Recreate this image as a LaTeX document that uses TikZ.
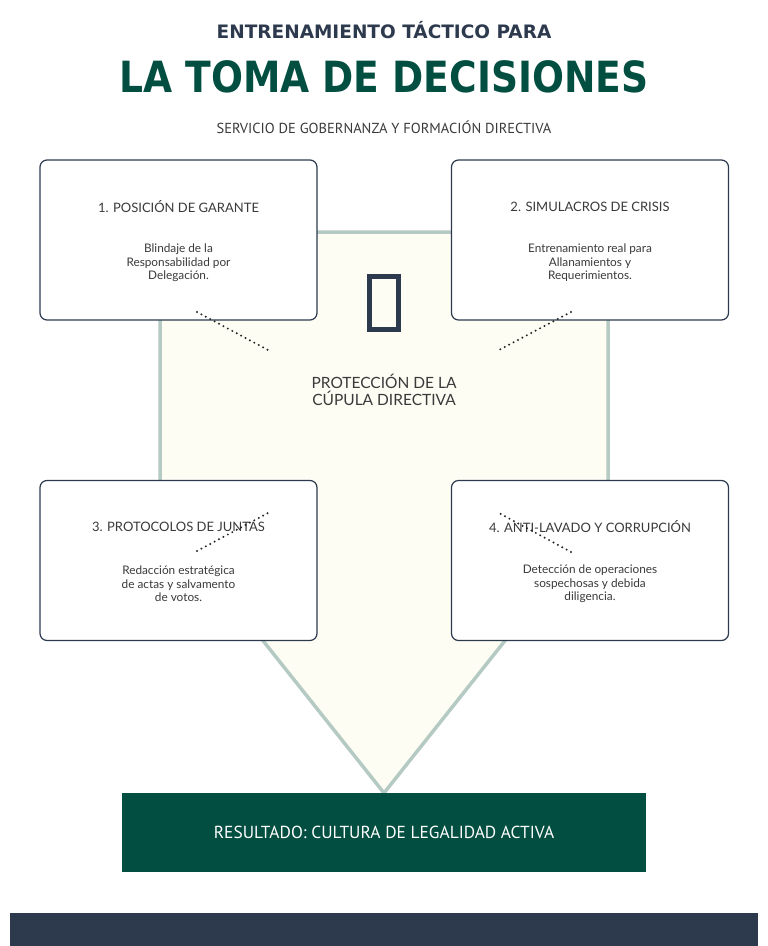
\documentclass[tikz,border=0pt]{standalone}
\usepackage{fontspec}
\setmainfont{Lato}
\newfontfamily\titelfont{DejaVu Sans}
\newfontfamily\grossfont[FakeStretch=0.875]{DejaVu Sans}
\newfontfamily\schmalfont{PT Sans}
\usetikzlibrary{positioning}

\definecolor{navy}{HTML}{2D3A4E}
\definecolor{tiefgruen}{HTML}{024E40}
\definecolor{salbei}{HTML}{B4CAC2}
\definecolor{creme}{HTML}{FDFDF4}
\definecolor{textgrau}{HTML}{3A3A3A}

\tikzset{
    karte/.style={draw=navy, line width=1.2pt, rounded corners=7pt, fill=white,
        minimum width=277pt, minimum height=160pt, inner sep=0pt},
    kopf/.style={font=\fontsize{13}{15}\selectfont, text=textgrau, inner sep=0pt},
    info/.style={font=\fontsize{11.8}{13.6}\selectfont, text=textgrau, align=center, inner sep=0pt},
    punktlinie/.style={line width=2.2pt, line cap=round, dash pattern=on 0pt off 5pt, black!85}
}

\begin{document}
\begin{tikzpicture}[x=1pt, y=-1pt]
    \useasboundingbox (0,0) rectangle (768,946);
    % header
    \path node[font=\titelfont\bfseries\fontsize{18.5}{22}\selectfont, text=navy] (kopfzeile) at (384,30) {ENTRENAMIENTO TÁCTICO PARA}
        node[font=\grossfont\bfseries\fontsize{43}{50}\selectfont, text=tiefgruen] (titel) at (384,77) {LA TOMA DE DECISIONES}
        node[font=\schmalfont\fontsize{14.5}{17}\selectfont, text=textgrau] (untertitel) at (384,127) {SERVICIO DE GOBERNANZA Y FORMACIÓN DIRECTIVA};
    % big arrow
    \filldraw[fill=creme, draw=salbei, line width=3.5pt, line join=miter]
        (160,232) -- (608,232) -- (608,511) -- (384,793) -- (160,511) -- cycle;
    \path node[draw=navy, line width=4.5pt, minimum width=29pt, minimum height=53pt, inner sep=0pt] (symbol) at (384,303) {}
        node[font=\fontsize{15.5}{17}\selectfont, text=textgrau, align=center] (kern) at (384,390) {PROTECCIÓN DE LA\\CÚPULA DIRECTIVA};
    % the four cards
    \path node[karte] (K1) at (178.5,240) {}
        node[karte] (K2) at (590,240) {}
        node[karte] (K3) at (178.5,560.5) {}
        node[karte] (K4) at (590,560.5) {};
    \path node[kopf] (T1) at (178.5,207) {1. POSICIÓN DE GARANTE}
        node[info] (I1) at (178.5,263) {Blindaje de la\\Responsabilidad por\\Delegación.}
        node[kopf] (T2) at (590,207) {2. SIMULACROS DE CRISIS}
        node[info] (I2) at (590,263) {Entrenamiento real para\\Allanamientos y\\Requerimientos.}
        node[kopf] (T3) at (178.5,527) {3. PROTOCOLOS DE JUNTAS}
        node[info] (I3) at (178.5,584) {Redacción estratégica\\de actas y salvamento\\de votos.}
        node[kopf] (T4) at (590,527) {4. ANTI-LAVADO Y CORRUPCIÓN}
        node[info] (I4) at (590,584) {Detección de operaciones\\sospechosas y debida\\diligencia.};
    % dotted links
    \coordinate (a1) at (197,312);
    \coordinate (z1) at (268,350);
    \coordinate (a2) at (571,312);
    \coordinate (z2) at (499,350);
    \coordinate (a3) at (197,551);
    \coordinate (z3) at (268,513);
    \coordinate (a4) at (571,552);
    \coordinate (z4) at (499,513);
    \draw[punktlinie] (a1) -- (z1);
    \draw[punktlinie] (a2) -- (z2);
    \draw[punktlinie] (a3) -- (z3);
    \draw[punktlinie] (a4) -- (z4);
    % result and footer
    \path node[fill=tiefgruen, minimum width=524pt, minimum height=79pt, inner sep=0pt,
            text=white, font=\schmalfont\fontsize{17.4}{20}\selectfont] (ergebnis) at (384,832.5) {RESULTADO: CULTURA DE LEGALIDAD ACTIVA};
    \fill[navy] (10,913) rectangle (758,946);
\end{tikzpicture}
\end{document}
